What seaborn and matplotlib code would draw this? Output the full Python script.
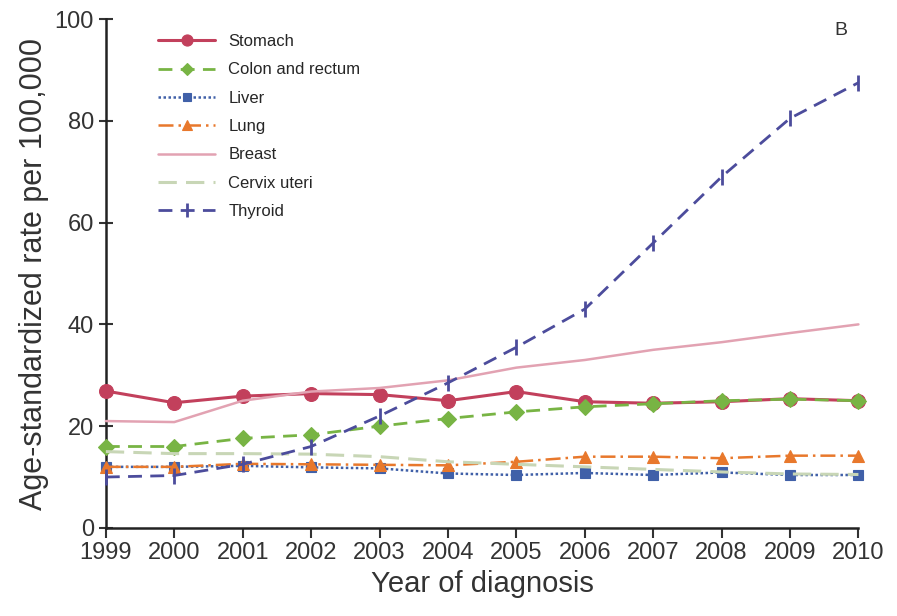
import pandas as pd
import matplotlib.pyplot as plt
import seaborn as sns

years = list(range(1999, 2011))

stomach = [26.9, 24.6, 25.9, 26.4, 26.2, 25.0, 26.8, 24.8, 24.5, 24.8, 25.4, 25.0]
colon = [16.0, 16.0, 17.6, 18.3, 20.0, 21.5, 22.8, 23.8, 24.4, 25.0, 25.3, 25.0]
liver = [12.0, 12.0, 12.2, 11.9, 11.7, 10.7, 10.4, 10.8, 10.4, 10.9, 10.4, 10.4]
lung = [12.0, 12.0, 12.6, 12.5, 12.4, 12.3, 13.0, 14.0, 14.0, 13.7, 14.2, 14.2]
breast = [21.0, 20.8, 25.0, 26.8, 27.5, 29.0, 31.5, 33.0, 35.0, 36.5, 38.3, 40.0]
cervix = [15.0, 14.6, 14.6, 14.5, 14.0, 13.0, 12.5, 12.0, 11.5, 11.0, 10.6, 10.5]
thyroid = [10.0, 10.3, 12.5, 16.0, 22.0, 28.5, 35.5, 43.0, 56.0, 69.0, 80.5, 87.5]

names = ['Stomach', 'Colon and rectum', 'Liver', 'Lung', 'Breast', 'Cervix uteri', 'Thyroid']
series = [stomach, colon, liver, lung, breast, cervix, thyroid]

colors = ['#c2405c', '#78b444', '#4060a8', '#e8782c', '#e2a2b2', '#c8d6b6', '#4c4c9c']
markers = ['o', 'D', 's', '^', None, None, '|']
dashes = [(None, None), (5, 3), (1, 1), (6, 2, 1, 2), (None, None), (6, 3), (5, 3)]
widths = [2.2, 2.0, 1.8, 1.8, 1.8, 2.2, 2.0]
msizes = [10, 8, 7, 9, 0, 0, 12]

sns.set_style('ticks')
plt.rcParams['font.family'] = ['Liberation Sans', 'DejaVu Sans']

fig = plt.figure(figsize=(8.97, 6.16), dpi=100)
ax = fig.add_axes([0.118, 0.143, 0.839, 0.826])

# draw back to front: lighter lines first
order = [4, 5, 2, 3, 1, 0, 6]
for i in order:
    df = pd.DataFrame({'year': years, 'rate': series[i]})
    ls = '-' if dashes[i] == (None, None) else (0, dashes[i])
    sns.lineplot(data=df, x='year', y='rate', ax=ax, color=colors[i], linestyle=ls,
                 linewidth=widths[i], marker=markers[i], markersize=msizes[i],
                 markeredgewidth=2 if markers[i] == '|' else 0.8,
                 markeredgecolor=colors[i], label=names[i], clip_on=False, zorder=3 + i)

handles, labels = ax.get_legend_handles_labels()
lookup = dict(zip(labels, handles))
ax.legend([lookup[n] for n in names], names, loc='upper left', bbox_to_anchor=(0.05, 1.0),
          frameon=False, fontsize=12, handlelength=3.4, labelspacing=0.8, markerscale=0.8)

ax.set_xlim(1999, 2010)
ax.set_ylim(0, 100)
ax.set_xticks(years)
ax.set_yticks([0, 20, 40, 60, 80, 100])
ax.tick_params(axis='both', labelsize=17, width=1.5, length=7, direction='out', colors='#333333')
ax.tick_params(axis='y', direction='inout', length=10)
for s in ['top', 'right']:
    ax.spines[s].set_visible(False)
for s in ['left', 'bottom']:
    ax.spines[s].set_linewidth(1.8)
    ax.spines[s].set_color('#222222')

ax.set_xlabel('Year of diagnosis', fontsize=21, color='#333333')
ax.set_ylabel('Age-standardized rate per 100,000', fontsize=22, color='#333333')
ax.text(0.985, 0.995, 'B', transform=ax.transAxes, ha='right', va='top', fontsize=14, color='#333333')

fig.savefig('out.png', dpi=100)
